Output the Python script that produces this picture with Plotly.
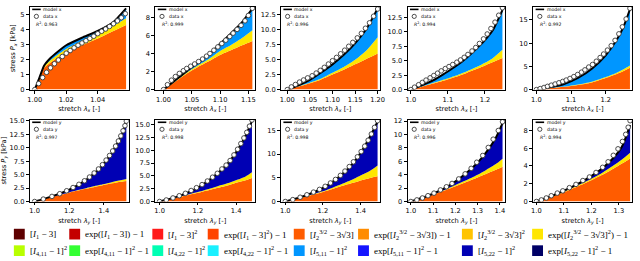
import numpy as np
import plotly.graph_objects as go

# ---------------- legend terms (16 model terms) ----------------
term_labels = [
    "[<i>I</i><sub>1</sub> − 3]",
    "exp([<i>I</i><sub>1</sub> − 3]) − 1",
    "[<i>I</i><sub>1</sub> − 3]<sup>2</sup>",
    "exp([<i>I</i><sub>1</sub> − 3]<sup>2</sup>) − 1",
    "[<i>I</i><sub>2</sub><sup>3/2</sup> − 3√3]",
    "exp([<i>I</i><sub>2</sub><sup>3/2</sup> − 3√3]) − 1",
    "[<i>I</i><sub>2</sub><sup>3/2</sup> − 3√3]<sup>2</sup>",
    "exp([<i>I</i><sub>2</sub><sup>3/2</sup> − 3√3]<sup>2</sup>) − 1",
    "[<i>I</i><sub>4,11</sub> − 1]<sup>2</sup>",
    "exp[<i>I</i><sub>4,11</sub> − 1]<sup>2</sup> − 1",
    "[<i>I</i><sub>4,22</sub> − 1]<sup>2</sup>",
    "exp[<i>I</i><sub>4,22</sub> − 1]<sup>2</sup> − 1",
    "[<i>I</i><sub>5,11</sub> − 1]<sup>2</sup>",
    "exp[<i>I</i><sub>5,11</sub> − 1]<sup>2</sup> − 1",
    "[<i>I</i><sub>5,22</sub> − 1]<sup>2</sup>",
    "exp[<i>I</i><sub>5,22</sub> − 1]<sup>2</sup> − 1",
]
term_colors = [
    "#5e0000", "#c40000", "#ff1a1a", "#ff4400",
    "#ff5c00", "#ff8c00", "#ffc400", "#ffe600",
    "#b8ff00", "#33ff33", "#00ffb3", "#1af0ff",
    "#0096ff", "#1414ff", "#0000b4", "#000066",
]
ISO_TERM, YEL_TERM, ANI_X_TERM, ANI_Y_TERM = 4, 7, 12, 14

r2_x = [0.963, 0.999, 0.996, 0.994, 0.992]
r2_y = [0.997, 0.998, 0.998, 0.996, 0.994]

# ---------------- x-direction panels ----------------
lam_x1 = [1.000, 1.003, 1.006, 1.010, 1.015, 1.020, 1.030, 1.040, 1.050, 1.058]
orange_x1 = [0.0, 0.7, 1.45, 1.8, 2.15, 2.45, 2.95, 3.4, 3.9, 4.3]
yellow_x1 = [0.0, 0.75, 1.55, 1.95, 2.35, 2.7, 3.25, 3.7, 4.25, 4.75]
model_x1 = [0.0, 0.8, 1.6, 2.1, 2.55, 2.95, 3.45, 3.9, 4.5, 5.4]
lamd_x1 = [1.000, 1.0025, 1.005, 1.0075, 1.010, 1.0125, 1.015, 1.0175, 1.020, 1.0225,
           1.025, 1.0275, 1.030, 1.0325, 1.035, 1.0375, 1.040, 1.0425, 1.045, 1.0475,
           1.050, 1.0525, 1.055, 1.0575]
Pd_x1 = [0.0, 0.4, 0.8, 1.15, 1.45, 1.72, 1.97, 2.2, 2.42, 2.6, 2.78, 2.95, 3.1, 3.25,
         3.4, 3.55, 3.72, 3.88, 4.03, 4.2, 4.38, 4.57, 4.78, 5.05]

lam_x2 = [1.00, 1.02, 1.04, 1.06, 1.08, 1.10, 1.12, 1.14, 1.157]
orange_x2 = [0.0, 0.85, 1.75, 2.5, 3.15, 3.85, 4.4, 4.95, 5.4]
yellow_x2 = [0.0, 0.9, 1.85, 2.65, 3.4, 4.3, 5.0, 5.8, 6.6]
model_x2 = [0.0, 1.0, 2.0, 2.95, 3.9, 5.1, 6.3, 7.6, 9.0]
lamd_x2 = [1.000, 1.007, 1.014, 1.021, 1.028, 1.035, 1.041, 1.048, 1.055, 1.062, 1.069,
           1.076, 1.082, 1.089, 1.096, 1.103, 1.110, 1.117, 1.123, 1.130, 1.137, 1.144,
           1.150, 1.157]
Pd_x2 = [0.0, 0.55, 1.05, 1.45, 1.8, 2.1, 2.35, 2.6, 2.85, 3.12, 3.4, 3.72, 4.02, 4.38,
         4.75, 5.12, 5.5, 5.9, 6.28, 6.7, 7.15, 7.65, 8.25, 9.05]

lam_x3 = [1.000, 1.025, 1.050, 1.075, 1.100, 1.125, 1.150, 1.175, 1.200]
orange_x3 = [0.0, 0.5, 1.05, 1.7, 2.5, 3.3, 4.2, 5.1, 6.0]
yellow_x3 = [0.0, 0.55, 1.15, 1.85, 2.8, 3.75, 4.95, 6.5, 8.7]
model_x3 = [0.0, 0.7, 1.6, 2.85, 4.2, 5.8, 7.7, 10.1, 13.5]
lamd_x3 = [1.000, 1.009, 1.018, 1.027, 1.036, 1.045, 1.055, 1.064, 1.073, 1.082, 1.091,
           1.100, 1.109, 1.118, 1.127, 1.136, 1.145, 1.155, 1.164, 1.173, 1.182, 1.191,
           1.200]
Pd_x3 = [0.0, 0.45, 0.85, 1.25, 1.6, 1.95, 2.3, 2.75, 3.2, 3.7, 4.25, 4.8, 5.35, 5.95,
         6.55, 7.2, 7.85, 8.6, 9.35, 10.2, 11.1, 12.2, 13.4]

lam_x4 = [1.00, 1.03, 1.06, 1.09, 1.12, 1.15, 1.18, 1.20, 1.22, 1.247]
orange_x4 = [0.0, 0.5, 1.05, 1.6, 2.2, 2.9, 3.65, 4.2, 4.75, 5.5]
yellow_x4 = [0.0, 0.55, 1.15, 1.75, 2.4, 3.15, 4.0, 4.65, 5.4, 6.9]
model_x4 = [0.0, 0.75, 1.6, 2.75, 4.0, 5.5, 7.3, 8.6, 10.2, 13.8]
lamd_x4 = [1.000, 1.010, 1.021, 1.031, 1.041, 1.052, 1.062, 1.072, 1.082, 1.093, 1.103,
           1.113, 1.124, 1.134, 1.144, 1.154, 1.165, 1.175, 1.185, 1.196, 1.206, 1.216,
           1.227, 1.237, 1.247]
Pd_x4 = [0.0, 0.42, 0.85, 1.25, 1.65, 2.05, 2.45, 2.85, 3.25, 3.65, 4.0, 4.35, 4.75,
         5.15, 5.6, 6.1, 6.7, 7.3, 8.0, 8.8, 9.65, 10.6, 11.7, 12.9, 14.2]

lam_x5 = [1.00, 1.04, 1.08, 1.12, 1.16, 1.20, 1.23, 1.25, 1.27]
orange_x5 = [0.0, 0.3, 0.6, 1.0, 1.55, 2.5, 3.3, 3.95, 4.7]
yellow_x5 = [0.0, 0.32, 0.65, 1.1, 1.7, 2.7, 3.6, 4.35, 5.2]
model_x5 = [0.0, 0.5, 1.2, 2.5, 4.5, 7.4, 10.5, 13.3, 17.3]
lamd_x5 = [1.000, 1.011, 1.022, 1.032, 1.043, 1.054, 1.065, 1.076, 1.086, 1.097, 1.108,
           1.119, 1.130, 1.140, 1.151, 1.162, 1.173, 1.184, 1.194, 1.205, 1.216, 1.227,
           1.238, 1.248, 1.259, 1.270]
Pd_x5 = [0.0, 0.22, 0.46, 0.7, 0.95, 1.2, 1.47, 1.76, 2.05, 2.4, 2.8, 3.25, 3.75, 4.25,
         4.85, 5.4, 6.1, 6.9, 7.65, 8.5, 9.45, 10.6, 12.0, 13.5, 15.2, 17.5]

# ---------------- y-direction panels ----------------
lam_y1 = [1.00, 1.10, 1.20, 1.30, 1.38, 1.44, 1.48, 1.51, 1.53]
orange_y1 = [0.0, 0.85, 1.65, 2.4, 2.95, 3.35, 3.6, 3.72, 3.8]
yellow_y1 = [0.0, 0.87, 1.7, 2.5, 3.1, 3.55, 3.85, 4.05, 4.2]
model_y1 = [0.0, 0.95, 2.2, 4.1, 6.35, 8.8, 11.0, 13.0, 14.8]
lamd_y1 = [1.000, 1.050, 1.100, 1.145, 1.185, 1.222, 1.256, 1.288, 1.317, 1.344, 1.369,
           1.392, 1.413, 1.433, 1.451, 1.468, 1.484, 1.498, 1.511, 1.522, 1.530]
Pd_y1 = [0.0, 0.45, 0.95, 1.45, 2.0, 2.6, 3.2, 3.85, 4.55, 5.3, 6.05, 6.85, 7.7, 8.55,
         9.4, 10.3, 11.25, 12.2, 13.15, 14.1, 14.95]

lam_y2 = [1.00, 1.10, 1.20, 1.30, 1.36, 1.41, 1.45, 1.483]
orange_y2 = [0.0, 0.85, 1.7, 2.65, 3.2, 3.75, 4.15, 4.6]
yellow_y2 = [0.0, 0.9, 1.85, 2.95, 3.6, 4.3, 4.9, 5.7]
model_y2 = [0.0, 1.05, 2.7, 5.4, 7.6, 10.2, 12.9, 15.7]
lamd_y2 = [1.000, 1.035, 1.070, 1.103, 1.135, 1.165, 1.193, 1.222, 1.250, 1.277, 1.302,
           1.326, 1.348, 1.369, 1.389, 1.408, 1.425, 1.441, 1.456, 1.470, 1.483]
Pd_y2 = [0.0, 0.3, 0.7, 1.13, 1.6, 2.15, 2.7, 3.3, 4.0, 4.75, 5.5, 6.35, 7.1, 8.0, 9.1,
         10.2, 11.3, 12.4, 13.5, 14.7, 15.9]

lam_y3 = [1.00, 1.10, 1.20, 1.30, 1.36, 1.41, 1.45, 1.49]
orange_y3 = [0.0, 0.95, 2.0, 3.25, 3.95, 4.55, 4.95, 5.3]
yellow_y3 = [0.0, 1.0, 2.15, 3.7, 4.7, 5.7, 6.5, 7.6]
model_y3 = [0.0, 1.15, 2.85, 5.7, 8.1, 10.9, 13.7, 16.8]
lamd_y3 = [1.000, 1.040, 1.079, 1.115, 1.150, 1.182, 1.212, 1.240, 1.267, 1.293, 1.317,
           1.340, 1.362, 1.383, 1.403, 1.422, 1.440, 1.457, 1.474, 1.490]
Pd_y3 = [0.0, 0.4, 0.9, 1.42, 1.98, 2.55, 3.2, 3.9, 4.65, 5.5, 6.4, 7.35, 8.35, 9.4,
         10.5, 11.65, 12.9, 14.2, 15.6, 17.0]

lam_y4 = [1.00, 1.08, 1.16, 1.24, 1.30, 1.34, 1.38, 1.412]
orange_y4 = [0.0, 0.8, 1.75, 2.8, 3.6, 4.15, 4.7, 5.2]
yellow_y4 = [0.0, 0.82, 1.85, 3.05, 4.0, 4.75, 5.55, 6.4]
model_y4 = [0.0, 0.9, 2.15, 4.0, 5.8, 7.4, 9.4, 11.7]
lamd_y4 = [1.000, 1.027, 1.052, 1.077, 1.104, 1.133, 1.160, 1.185, 1.215, 1.244, 1.271,
           1.296, 1.323, 1.348, 1.370, 1.393, 1.412]
Pd_y4 = [0.0, 0.24, 0.53, 0.87, 1.25, 1.73, 2.2, 2.7, 3.37, 4.13, 4.95, 5.86, 6.87,
         8.07, 9.3, 10.6, 11.9]

lam_y5 = [1.00, 1.06, 1.12, 1.18, 1.24, 1.28, 1.31, 1.341]
orange_y5 = [0.0, 0.6, 1.3, 2.1, 3.0, 3.7, 4.25, 4.85]
yellow_y5 = [0.0, 0.62, 1.38, 2.25, 3.25, 4.05, 4.7, 5.5]
model_y5 = [0.0, 0.68, 1.5, 2.5, 3.75, 4.9, 6.1, 8.6]
lamd_y5 = [1.000, 1.018, 1.036, 1.054, 1.076, 1.096, 1.120, 1.144, 1.169, 1.193, 1.217,
           1.241, 1.261, 1.280, 1.297, 1.313, 1.325, 1.334, 1.341]
Pd_y5 = [0.0, 0.18, 0.4, 0.65, 0.95, 1.2, 1.56, 1.93, 2.36, 2.76, 3.27, 3.85, 4.47, 5.2,
         5.93, 6.76, 7.56, 8.36, 9.1]

# ---------------- assemble ----------------
panels = [
    (lam_x1, orange_x1, yellow_x1, model_x1, lamd_x1, Pd_x1, r2_x[0], "x"),
    (lam_x2, orange_x2, yellow_x2, model_x2, lamd_x2, Pd_x2, r2_x[1], "x"),
    (lam_x3, orange_x3, yellow_x3, model_x3, lamd_x3, Pd_x3, r2_x[2], "x"),
    (lam_x4, orange_x4, yellow_x4, model_x4, lamd_x4, Pd_x4, r2_x[3], "x"),
    (lam_x5, orange_x5, yellow_x5, model_x5, lamd_x5, Pd_x5, r2_x[4], "x"),
    (lam_y1, orange_y1, yellow_y1, model_y1, lamd_y1, Pd_y1, r2_y[0], "y"),
    (lam_y2, orange_y2, yellow_y2, model_y2, lamd_y2, Pd_y2, r2_y[1], "y"),
    (lam_y3, orange_y3, yellow_y3, model_y3, lamd_y3, Pd_y3, r2_y[2], "y"),
    (lam_y4, orange_y4, yellow_y4, model_y4, lamd_y4, Pd_y4, r2_y[3], "y"),
    (lam_y5, orange_y5, yellow_y5, model_y5, lamd_y5, Pd_y5, r2_y[4], "y"),
]

W, H = 640, 261
col_px = [(28, 128), (155, 256), (282, 382), (410, 509), (537, 637)]
row_px = [(4, 89), (120, 204)]
x_ranges = [[0.9968, 1.0596], [0.9855, 1.162], [0.9859, 1.2048], [0.9911, 1.2551],
            [0.9905, 1.276], [0.9714, 1.543], [0.9776, 1.5], [0.977, 1.502],
            [0.985, 1.425], [0.988, 1.348]]
y_ranges = [[0, 5.5], [0, 9.2], [0, 13.75], [0, 14.35], [0, 17.8],
            [0, 15.2], [0, 15.95], [0, 17.2], [0, 12.2], [0, 9.2]]
x_ticks = [(0.02, ".2f"), (0.05, ".2f"), (0.05, ".2f"), (0.1, ".1f"), (0.1, ".1f"),
           (0.2, ".1f"), (0.2, ".1f"), (0.2, ".1f"), (0.1, ".1f"), (0.1, ".1f")]
y_ticks = [(1, "d"), (2, "d"), (2.5, ".1f"), (2.5, ".1f"), (5, "d"),
           (2.5, ".1f"), (2.5, ".1f"), (5, "d"), (2, "d"), (2, "d")]

TICKFONT = dict(family="DejaVu Sans", size=6.7, color="black")
SMALL = dict(family="DejaVu Sans", size=4.6, color="black")

fig = go.Figure()
layout = {}
for i, (lam, orng, yel, mdl, lamd, Pd, r2, d) in enumerate(panels):
    r, c = divmod(i, 5)
    n = i + 1
    xn = "x" if n == 1 else f"x{n}"
    yn = "y" if n == 1 else f"y{n}"
    ani = term_colors[ANI_X_TERM] if d == "x" else term_colors[ANI_Y_TERM]
    common = dict(xaxis=xn, yaxis=yn, showlegend=False, hoverinfo="skip")
    sm = 0.5 if i == 0 else 0.7
    sp = dict(width=0, shape="spline", smoothing=sm)
    fig.add_trace(go.Scatter(x=lam, y=orng, mode="lines", line=sp, fill="tozeroy",
                             fillcolor=term_colors[ISO_TERM], **common))
    fig.add_trace(go.Scatter(x=lam, y=yel, mode="lines", line=sp, fill="tonexty",
                             fillcolor=term_colors[YEL_TERM], **common))
    fig.add_trace(go.Scatter(x=lam, y=mdl, mode="lines", line=sp, fill="tonexty",
                             fillcolor=ani, **common))
    fig.add_trace(go.Scatter(x=lam, y=mdl, mode="lines",
                             line=dict(color="black", width=2, shape="spline", smoothing=sm),
                             **common))
    fig.add_trace(go.Scatter(x=lamd, y=Pd, mode="markers",
                             marker=dict(symbol="circle", size=4.6, color="white",
                                         line=dict(color="#3a3a3a", width=0.9)),
                             **common))

    x0, x1 = col_px[c]
    ytop, ybot = row_px[r]
    axis_common = dict(showline=True, mirror=True, linecolor="black", linewidth=0.8,
                       ticks="outside", ticklen=3, tickwidth=0.8, tickcolor="black",
                       showgrid=False, zeroline=False, tickfont=TICKFONT)
    sub = "x" if d == "x" else "y"
    layout["xaxis" if n == 1 else f"xaxis{n}"] = dict(
        domain=[x0 / W, x1 / W], anchor=yn, range=x_ranges[i],
        tick0=1.0, dtick=x_ticks[i][0], tickformat=x_ticks[i][1],
        title=dict(text=f"stretch <i>λ<sub>{sub}</sub></i> [-]", font=TICKFONT, standoff=3),
        **axis_common)
    ytitle = None
    if c == 0:
        ytitle = dict(text=f"stress <i>P<sub>{sub}</sub></i> [kPa]", font=TICKFONT, standoff=3)
    layout["yaxis" if n == 1 else f"yaxis{n}"] = dict(
        domain=[1 - ybot / H, 1 - ytop / H], anchor=xn, range=y_ranges[i],
        tick0=0, dtick=y_ticks[i][0], tickformat=y_ticks[i][1],
        title=ytitle, **axis_common)

    # in-panel legend (handles + labels)
    xd, yd = f"{xn} domain", f"{yn} domain"
    fig.add_shape(type="line", xref=xd, yref=yd, xsizemode="pixel", ysizemode="pixel",
                  xanchor=0, yanchor=1, x0=2.5, x1=11, y0=-2.5, y1=-2.5,
                  line=dict(color="black", width=1.6))
    fig.add_shape(type="circle", xref=xd, yref=yd, xsizemode="pixel", ysizemode="pixel",
                  xanchor=0, yanchor=1, x0=4.6, x1=8.8, y0=-7.4, y1=-11.6,
                  fillcolor="white", line=dict(color="#3a3a3a", width=0.9))
    fig.add_annotation(xref=xd, yref=yd, x=0, y=1, xshift=12.5, yshift=-2.5,
                       xanchor="left", yanchor="middle", showarrow=False,
                       text=f"model {d}", font=SMALL, borderpad=0)
    fig.add_annotation(xref=xd, yref=yd, x=0, y=1, xshift=12.5, yshift=-9.5,
                       xanchor="left", yanchor="middle", showarrow=False,
                       text=f"data {d}", font=SMALL, borderpad=0)
    fig.add_annotation(xref=xd, yref=yd, x=0, y=1, xshift=5.5, yshift=-17.5,
                       xanchor="left", yanchor="middle", showarrow=False,
                       text=f"<i>R</i><sup>2</sup>: {r2:.3f}", font=SMALL, borderpad=0)

# ---------------- bottom legend of the 16 terms ----------------
leg_col_px = [12, 68, 152, 208, 295, 360, 465, 536]
leg_row_px = [237.5, 254.5]
SQ = 11
LEGFONT = dict(family="Liberation Serif", size=9, color="black")
for k, (lab, col) in enumerate(zip(term_labels, term_colors)):
    rr, cc = divmod(k, 8)
    px, py = leg_col_px[cc], leg_row_px[rr]
    fig.add_shape(type="rect", xref="paper", yref="paper",
                  x0=px / W, x1=(px + SQ) / W,
                  y0=1 - (py + SQ / 2) / H, y1=1 - (py - SQ / 2) / H,
                  fillcolor=col, line=dict(width=0))
    fig.add_annotation(xref="paper", yref="paper", x=(px + SQ + 4) / W, y=1 - py / H,
                       xanchor="left", yanchor="middle", showarrow=False,
                       text=lab, font=LEGFONT, borderpad=0)

fig.update_layout(
    width=W, height=H, margin=dict(l=0, r=0, t=0, b=0),
    paper_bgcolor="white", plot_bgcolor="white", showlegend=False,
    font=dict(family="DejaVu Sans", color="black"),
    **layout,
)
fig.write_html(
    "out.html",
    config={"displayModeBar": False},
    post_script="document.body.style.margin='0px';document.body.style.overflow='hidden';",
)
